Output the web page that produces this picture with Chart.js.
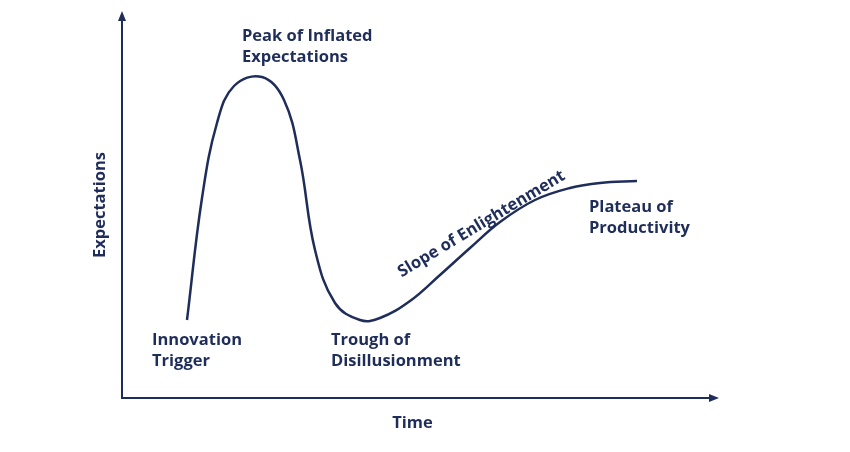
<!DOCTYPE html>
<html>
<head>
<meta charset="utf-8">
<script src="https://cdn.jsdelivr.net/npm/chart.js@4"></script>
<style>
  html, body { margin: 0; padding: 0; background: #fff; }
  #wrap { width: 850px; height: 452px; }
</style>
</head>
<body>
<div id="wrap"><canvas id="hype"></canvas></div>
<script>
// Curve (time, expectations)
const timeValues = [65, 80, 95, 112, 140, 162, 178, 193, 213, 238, 258, 288, 318, 348, 378, 413, 448, 478, 515];
const expectValues = [78, 200, 275, 312, 321, 298, 238, 148, 95, 78, 80, 97, 123, 150, 176, 198, 210, 215, 217];

// Phase labels: [lines, time, expectations]
const phaseLabels = [
  [['Peak of Inflated', 'Expectations'], 120, 357],
  [['Innovation', 'Trigger'], 30, 53],
  [['Trough of', 'Disillusionment'], 209, 53],
  [['Plateau of', 'Productivity'], 467, 186]
];
const navy = '#1f2d5a';
const FONT = 'bold 16.5px "Open Sans", sans-serif';

const points = timeValues.map((t, i) => ({ x: t, y: expectValues[i] }));

const decorPlugin = {
  id: 'decor',
  afterDraw(chart) {
    const ctx = chart.ctx;
    const a = chart.chartArea;
    const xs = chart.scales.x, ys = chart.scales.y;
    ctx.save();
    ctx.fillStyle = navy;
    ctx.strokeStyle = navy;
    ctx.lineWidth = 2;
    // axes with arrows
    ctx.beginPath();
    ctx.moveTo(a.left, a.top);
    ctx.lineTo(a.left, a.bottom);
    ctx.lineTo(a.right, a.bottom);
    ctx.stroke();
    ctx.beginPath();
    ctx.moveTo(a.left, a.top - 4);
    ctx.lineTo(a.left - 4, a.top + 6);
    ctx.lineTo(a.left + 4, a.top + 6);
    ctx.fill();
    ctx.beginPath();
    ctx.moveTo(a.right + 4, a.bottom);
    ctx.lineTo(a.right - 6, a.bottom - 4);
    ctx.lineTo(a.right - 6, a.bottom + 4);
    ctx.fill();

    // phase labels
    ctx.font = FONT;
    ctx.textAlign = 'left';
    ctx.textBaseline = 'alphabetic';
    phaseLabels.forEach(([lines, t, e]) => {
      const px = xs.getPixelForValue(t);
      const py = ys.getPixelForValue(e);
      lines.forEach((ln, i) => ctx.fillText(ln, px, py + i * 21));
    });

    // slope label
    ctx.save();
    ctx.translate(xs.getPixelForValue(362), ys.getPixelForValue(170));
    ctx.rotate(-31 * Math.PI / 180);
    ctx.textAlign = 'center';
    ctx.fillText('Slope of Enlightenment', 0, 0);
    ctx.restore();

    // axis titles
    ctx.textAlign = 'center';
    ctx.fillText('Time', (a.left + a.right) / 2 - 6, a.bottom + 30);
    ctx.save();
    ctx.translate(a.left - 17, 205);
    ctx.rotate(-Math.PI / 2);
    ctx.fillText('Expectations', 0, 0);
    ctx.restore();
    ctx.restore();
  }
};

new Chart(document.getElementById('hype'), {
  type: 'line',
  data: {
    datasets: [{
      data: points,
      borderColor: navy,
      borderWidth: 2.5,
      pointRadius: 0,
      tension: 0.4,
      fill: false
    }]
  },
  options: {
    responsive: true,
    maintainAspectRatio: false,
    animation: false,
    layout: { padding: { left: 122, right: 135, top: 15, bottom: 54 } },
    plugins: { legend: { display: false }, tooltip: { enabled: false } },
    scales: {
      x: { type: 'linear', min: 0, max: 593, display: false },
      y: { min: 0, max: 383, display: false }
    }
  },
  plugins: [decorPlugin]
});
</script>
</body>
</html>
